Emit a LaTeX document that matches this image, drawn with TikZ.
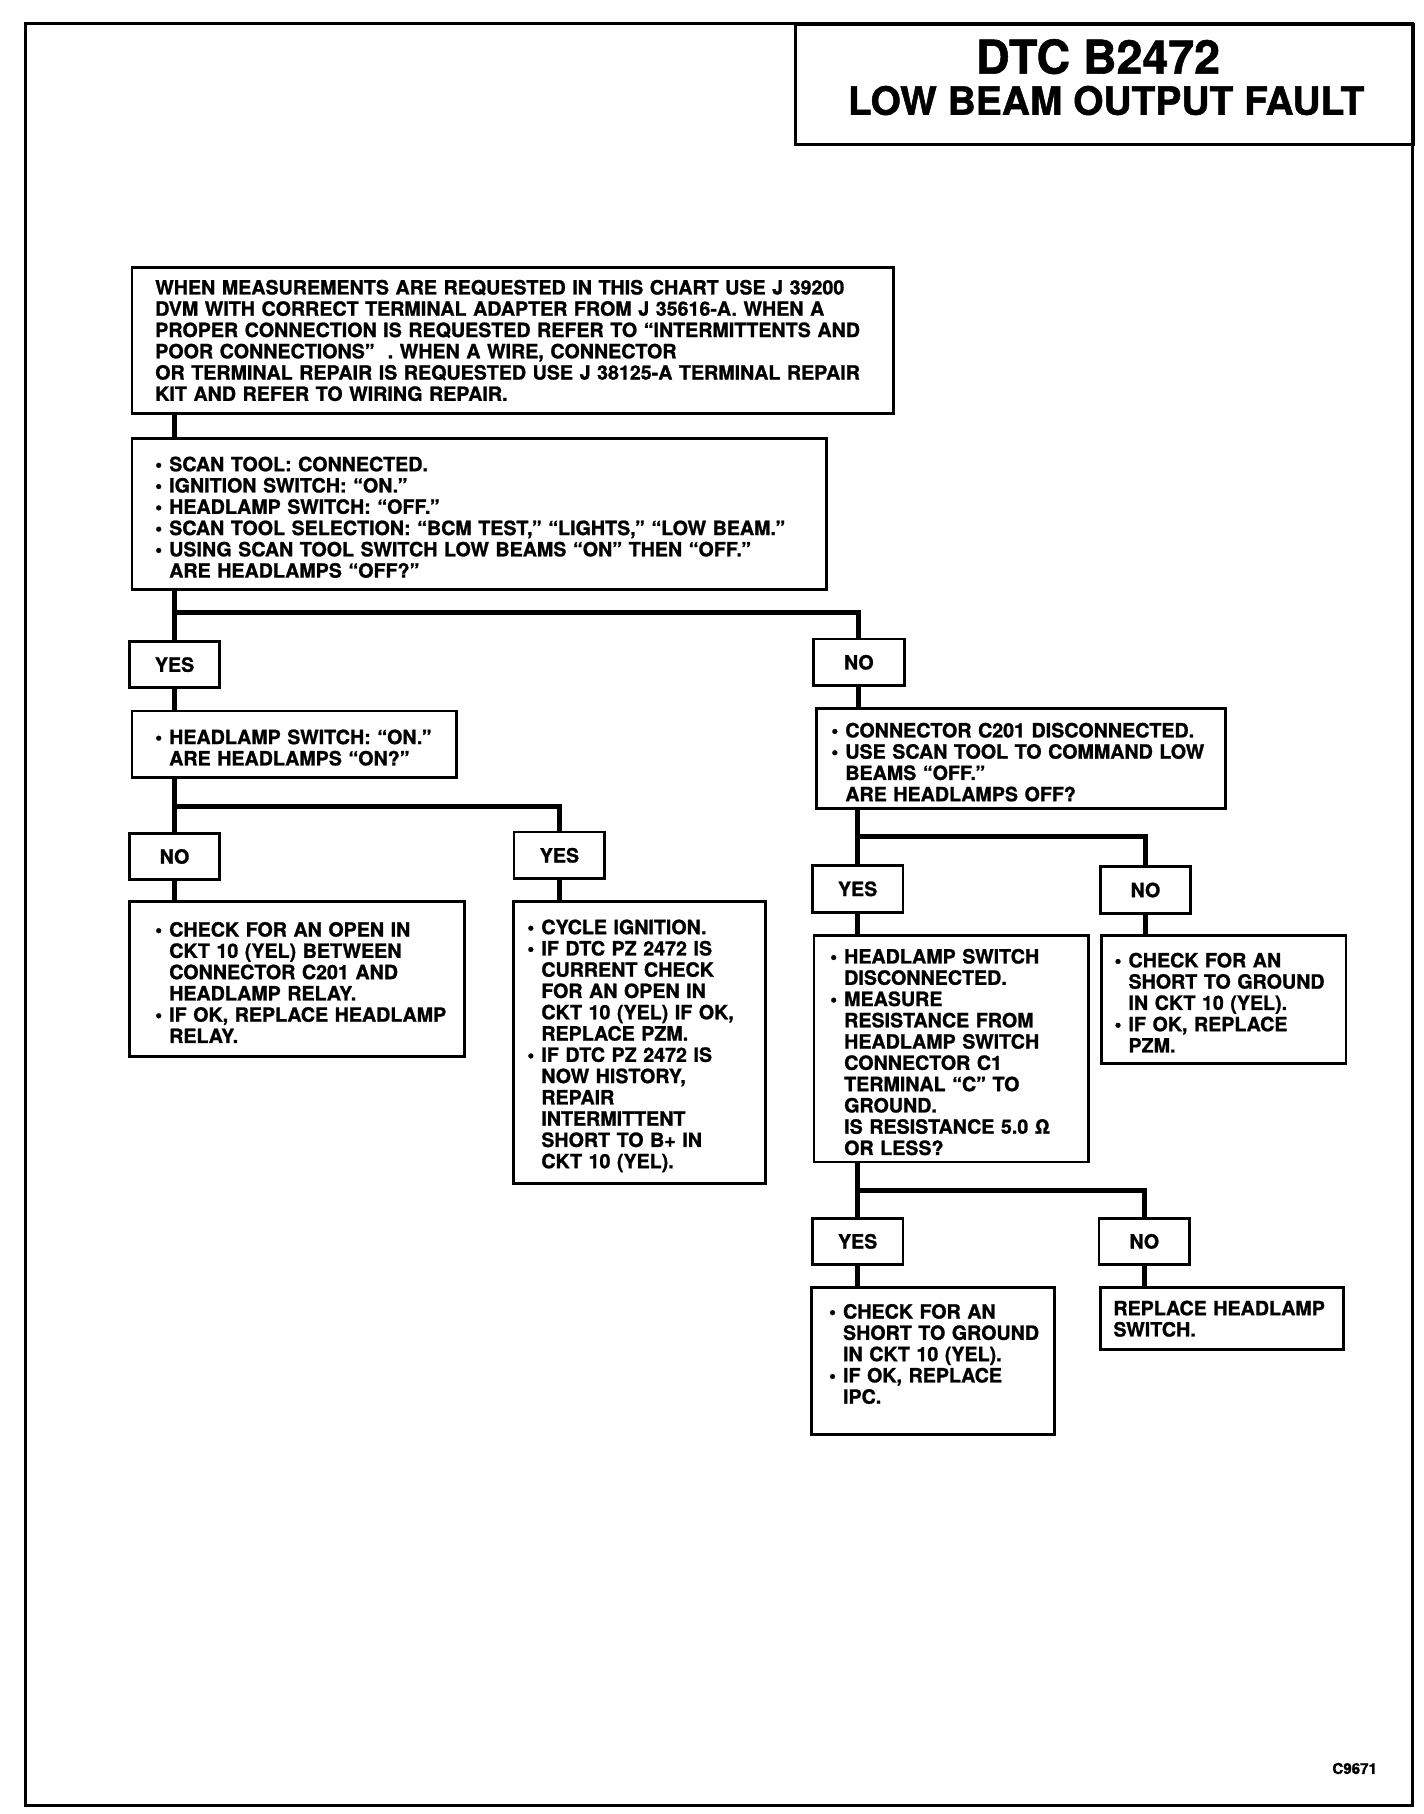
\documentclass[tikz,border=0pt]{standalone}
\usepackage{fontspec}
\setmainfont{TeX Gyre Heros}[BoldFeatures={FakeBold=1.2}]
\usetikzlibrary{positioning}

\newcommand{\itm}{\par\noindent\llap{\makebox[12pt][l]{\textbullet}}}

\begin{document}
\begin{tikzpicture}[x=0.994pt, y=-0.994pt,
    box/.style={draw, line width=2.4pt, anchor=north west, inner sep=0pt,
        font=\bfseries\fontsize{16.9}{18.3}\selectfont,
        execute at begin node={\raggedright\leftskip=#1\relax}},
    ans/.style={draw, line width=2.4pt, minimum width=78pt, minimum height=40pt,
        inner sep=0pt, font=\bfseries\fontsize{16.9}{18.3}\selectfont},
    wire/.style={line width=4.2pt}
]
    \useasboundingbox (0,0) rectangle (1231.4,1569.4);

    % Frame and title
    \draw[line width=2.6pt] (22,20) rectangle (1222,1562);
    \node[draw, line width=2.4pt, anchor=north west, minimum width=531.8pt,
        minimum height=103pt, inner sep=0pt] (titlebox) at (687,20) {};
    \node[font=\bfseries\fontsize{40}{40}\selectfont] (dtc) at (950,49) {DTC B2472};
    \node[font=\bfseries\fontsize{33.5}{34}\selectfont] (fault) at (957,87) {LOW BEAM OUTPUT FAULT};

    % Boxes
    \node[box=20pt, text width=655pt, minimum height=126pt] (intro) at (113,230) {
        WHEN MEASUREMENTS ARE REQUESTED IN THIS CHART USE J 39200\\
        DVM WITH CORRECT TERMINAL ADAPTER FROM J 35616-A. WHEN A\\
        PROPER CONNECTION IS REQUESTED REFER TO “INTERMITTENTS AND\\
        POOR CONNECTIONS”\ \ . WHEN A WIRE, CONNECTOR\\
        OR TERMINAL REPAIR IS REQUESTED USE J 38125-A TERMINAL REPAIR\\
        KIT AND REFER TO WIRING REPAIR.
    };
    \node[box=32pt, text width=597pt, minimum height=130pt] (setup) at (113,378) {
        \itm SCAN TOOL: CONNECTED.
        \itm IGNITION SWITCH: “ON.”
        \itm HEADLAMP SWITCH: “OFF.”
        \itm SCAN TOOL SELECTION: “BCM TEST,” “LIGHTS,” “LOW BEAM.”
        \itm USING SCAN TOOL SWITCH LOW BEAMS “ON” THEN “OFF.”\\
        ARE HEADLAMPS “OFF?”
    };
    \node[box=32pt, text width=279pt, minimum height=57pt] (swon) at (113,614) {
        \itm HEADLAMP SWITCH: “ON.”\\
        ARE HEADLAMPS “ON?”
    };
    \node[box=34pt, text width=288pt, minimum height=133pt] (relay) at (111,779) {
        \itm CHECK FOR AN OPEN IN\\
        CKT 10 (YEL) BETWEEN\\
        CONNECTOR C201 AND\\
        HEADLAMP RELAY.
        \itm IF OK, REPLACE HEADLAMP\\
        RELAY.
    };
    \node[box=24pt, text width=217pt, minimum height=242pt] (cycle) at (443,779) {
        \itm CYCLE IGNITION.
        \itm IF DTC PZ 2472 IS\\
        CURRENT CHECK\\
        FOR AN OPEN IN\\
        CKT 10 (YEL) IF OK,\\
        REPLACE PZM.
        \itm IF DTC PZ 2472 IS\\
        NOW HISTORY,\\
        REPAIR\\
        INTERMITTENT\\
        SHORT TO B+ IN\\
        CKT 10 (YEL).
    };
    \node[box=25pt, text width=352pt, minimum height=86pt] (conn) at (705,612) {
        \itm CONNECTOR C201 DISCONNECTED.
        \itm USE SCAN TOOL TO COMMAND LOW\\
        BEAMS “OFF.”\\
        ARE HEADLAMPS OFF?
    };
    \node[box=26pt, text width=236pt, minimum height=195pt] (measure) at (703,808) {
        \itm HEADLAMP SWITCH\\
        DISCONNECTED.
        \itm MEASURE\\
        RESISTANCE FROM\\
        HEADLAMP SWITCH\\
        CONNECTOR C1\\
        TERMINAL “C” TO\\
        GROUND.\\
        IS RESISTANCE 5.0 Ω\\
        OR LESS?
    };
    \node[box=23pt, text width=210pt, minimum height=110pt] (pzm) at (952,808) {
        \itm CHECK FOR AN\\
        SHORT TO GROUND\\
        IN CKT 10 (YEL).
        \itm IF OK, REPLACE\\
        PZM.
    };
    \node[box=27pt, text width=209pt, minimum height=126pt] (ipc) at (701,1113) {
        \itm CHECK FOR AN\\
        SHORT TO GROUND\\
        IN CKT 10 (YEL).
        \itm IF OK, REPLACE\\
        IPC.\\
        \mbox{}
    };
    \node[box=11pt, text width=209pt, minimum height=53pt] (swrep) at (951,1113) {
        REPLACE HEADLAMP\\
        SWITCH.
    };

    % Answers
    \node[ans] (yes1) at (151,575) {YES};
    \node[ans] (no1) at (743,573) {NO};
    \node[ans] (no2) at (151,741) {NO};
    \node[ans] (yes2) at (484,740) {YES};
    \node[ans] (yes3) at (742,769) {YES};
    \node[ans] (no3) at (991,770) {NO};
    \node[ans] (yes4) at (742,1074) {YES};
    \node[ans] (no4) at (990,1074) {NO};

    % Branch levels
    \coordinate (br1) at (0,530);
    \coordinate (br2) at (0,698);
    \coordinate (br3) at (0,724);
    \coordinate (br4) at (0,1030);

    % Connectors
    \draw[wire] (intro.south -| yes1) -- (setup.north -| yes1);
    \draw[wire] (setup.south -| yes1) -- (yes1.north);
    \draw[wire] (br1 -| yes1) -| (no1.north);
    \draw[wire] (yes1.south) -- (swon.north -| yes1);
    \draw[wire] (swon.south -| no2) -- (no2.north);
    \draw[wire] (br2 -| no2) -| (yes2.north);
    \draw[wire] (no2.south) -- (relay.north -| no2);
    \draw[wire] (yes2.south) -- (cycle.north -| yes2);
    \draw[wire] (no1.south) -- (conn.north -| no1);
    \draw[wire] (conn.south -| yes3) -- (yes3.north);
    \draw[wire] (br3 -| yes3) -| (no3.north);
    \draw[wire] (yes3.south) -- (measure.north -| yes3);
    \draw[wire] (no3.south) -- (pzm.north -| no3);
    \draw[wire] (measure.south -| yes4) -- (yes4.north);
    \draw[wire] (br4 -| yes4) -| (no4.north);
    \draw[wire] (yes4.south) -- (ipc.north -| yes4);
    \draw[wire] (no4.south) -- (swrep.north -| no4);

    \node[font=\bfseries\fontsize{13}{13}\selectfont] (code) at (1172,1530) {C9671};
\end{tikzpicture}
\end{document}
